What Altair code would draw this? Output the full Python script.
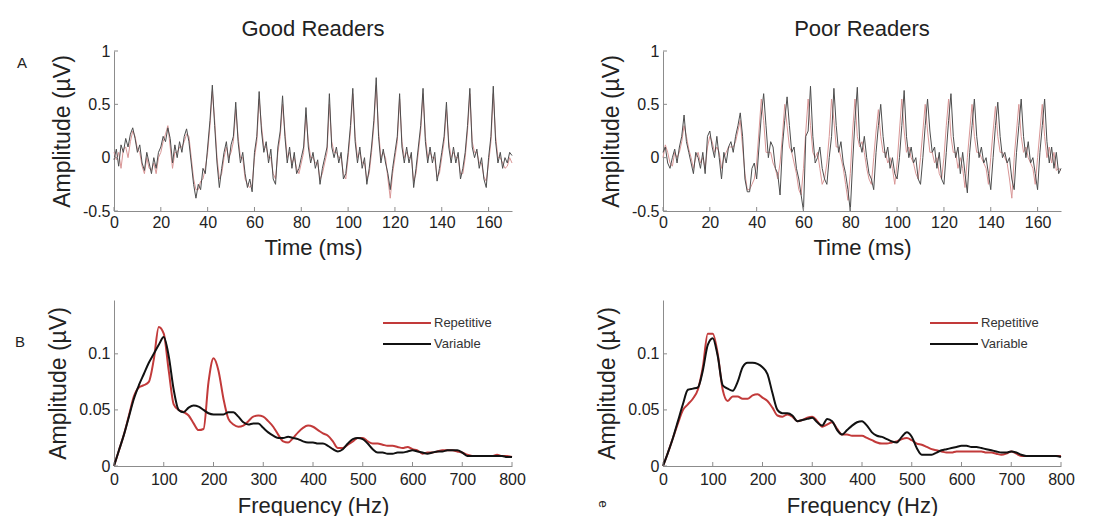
import altair as alt
import pandas as pd

FONT = "Liberation Sans"

# ---------------- data ----------------
time_ms = list(range(0, 171))
freq_hz = list(range(0, 801, 10))

series_names = ["Repetitive", "Variable"]

# Panel A, Good Readers (black = Variable, red = Repetitive)
good_var = [
    -0.02, 0.08, -0.08, 0.12, 0.05, 0.18, 0.10, 0.22, 0.28, 0.18,
    0.05, 0.12, -0.05, -0.12, 0.05, -0.05, -0.15, 0.00, -0.10, 0.05,
    0.10, 0.20, 0.15, 0.28, 0.18, -0.05, 0.12, 0.00, 0.15, 0.05,
    0.20, 0.27, 0.15, -0.05, -0.25, -0.38, -0.25, -0.30, -0.10, -0.15,
    0.10, 0.35, 0.68, 0.30, -0.05, -0.28, -0.10, 0.05, 0.15, -0.05,
    0.12, 0.20, 0.52, 0.15, -0.05, 0.05, -0.15, -0.28, -0.20, -0.32,
    0.05, 0.20, 0.62, 0.25, 0.05, 0.15, -0.05, 0.08, -0.20, -0.25,
    0.10, 0.25, 0.58, 0.20, -0.05, 0.10, -0.10, 0.05, -0.15, -0.10,
    0.00, 0.10, 0.47, 0.10, -0.05, 0.05, -0.10, -0.02, -0.25, -0.10,
    0.00, 0.10, 0.60, 0.10, 0.00, 0.10, -0.05, 0.05, -0.20, -0.15,
    0.05, 0.30, 0.65, 0.15, -0.05, 0.10, -0.10, 0.00, -0.25, -0.10,
    0.10, 0.35, 0.75, 0.20, -0.05, 0.08, -0.05, -0.15, -0.30, -0.10,
    0.05, 0.20, 0.60, 0.10, -0.05, 0.10, -0.05, 0.05, -0.28, -0.10,
    0.10, 0.30, 0.65, 0.15, -0.05, 0.10, -0.05, 0.05, -0.22, -0.10,
    0.05, 0.20, 0.52, 0.10, -0.05, 0.10, -0.05, 0.05, -0.20, -0.10,
    0.05, 0.30, 0.65, 0.10, 0.00, 0.08, -0.10, 0.00, -0.20, -0.28,
    0.00, 0.20, 0.67, 0.15, -0.05, 0.05, -0.10, 0.00, -0.05, 0.05,
    0.02,
]
good_rep = [
    0.05, -0.02, 0.05, -0.10, 0.08, 0.10, 0.00, 0.15, 0.25, 0.20,
    0.08, 0.05, -0.08, -0.15, 0.00, -0.10, -0.12, -0.05, -0.15, 0.00,
    0.05, 0.15, 0.22, 0.30, 0.10, -0.10, 0.05, 0.05, 0.10, 0.10,
    0.15, 0.22, 0.20, 0.00, -0.20, -0.30, -0.30, -0.22, -0.20, -0.10,
    0.05, 0.30, 0.62, 0.35, 0.00, -0.20, -0.15, 0.00, 0.10, 0.00,
    0.05, 0.15, 0.45, 0.20, 0.00, 0.00, -0.20, -0.25, -0.28, -0.25,
    0.00, 0.15, 0.55, 0.30, 0.10, 0.10, 0.00, 0.00, -0.15, -0.20,
    0.05, 0.20, 0.50, 0.25, 0.00, 0.05, -0.05, 0.00, -0.10, -0.15,
    -0.05, 0.05, 0.40, 0.15, 0.00, 0.00, -0.05, -0.05, -0.20, -0.15,
    -0.05, 0.05, 0.50, 0.15, 0.05, 0.05, 0.00, 0.00, -0.15, -0.20,
    0.00, 0.25, 0.60, 0.20, 0.00, 0.05, -0.05, -0.05, -0.20, -0.15,
    0.05, 0.30, 0.68, 0.25, 0.00, 0.05, 0.00, -0.20, -0.38, -0.15,
    0.00, 0.15, 0.55, 0.15, 0.00, 0.05, 0.00, 0.00, -0.22, -0.15,
    0.05, 0.25, 0.60, 0.20, 0.00, 0.05, 0.00, 0.00, -0.18, -0.15,
    0.00, 0.15, 0.45, 0.15, 0.00, 0.05, 0.00, 0.00, -0.15, -0.15,
    0.00, 0.25, 0.60, 0.15, 0.05, 0.05, -0.05, -0.05, -0.18, -0.22,
    -0.05, 0.15, 0.60, 0.20, 0.00, 0.00, -0.05, -0.10, -0.08, 0.00,
    -0.05,
]
# Panel A, Poor Readers
poor_var = [
    0.05, 0.10, -0.05, -0.10, 0.00, 0.08, -0.05, 0.10, 0.20, 0.40,
    0.15, 0.05, -0.05, -0.15, 0.05, 0.00, -0.10, 0.05, -0.15, 0.20,
    0.25, 0.10, 0.00, 0.20, 0.00, -0.20, 0.05, -0.05, 0.10, 0.15,
    0.05, 0.20, 0.30, 0.42, 0.20, -0.20, -0.32, -0.32, -0.10, -0.05,
    -0.20, 0.10, 0.40, 0.60, 0.30, 0.00, 0.15, 0.10, -0.10, -0.15,
    -0.35, 0.10, 0.35, 0.57, 0.30, 0.05, 0.10, -0.10, -0.20, -0.35,
    -0.50, 0.20, 0.25, 0.67, 0.20, -0.05, 0.00, 0.10, -0.10, -0.20,
    -0.25, 0.00, 0.20, 0.65, 0.30, 0.05, 0.15, -0.05, -0.15, -0.30,
    -0.50, -0.05, 0.35, 0.66, 0.15, 0.05, 0.20, 0.00, -0.15, -0.20,
    -0.30, 0.05, 0.30, 0.50, 0.20, 0.00, 0.10, -0.10, 0.00, -0.15,
    -0.20, 0.00, 0.30, 0.63, 0.20, 0.00, 0.10, -0.05, 0.00, -0.20,
    -0.25, 0.00, 0.30, 0.55, 0.25, 0.05, 0.10, -0.10, 0.05, -0.20,
    -0.25, 0.05, 0.35, 0.60, 0.20, 0.00, 0.10, -0.15, 0.05, -0.15,
    -0.33, 0.05, 0.30, 0.55, 0.20, 0.00, 0.10, -0.05, 0.00, -0.15,
    -0.30, 0.00, 0.30, 0.52, 0.20, 0.00, 0.05, -0.05, 0.00, -0.20,
    -0.30, 0.05, 0.30, 0.55, 0.20, 0.00, 0.15, -0.05, 0.00, -0.15,
    -0.30, 0.05, 0.30, 0.55, 0.15, -0.05, 0.10, -0.10, 0.05, -0.15,
    -0.10,
]
poor_rep = [
    0.00, 0.12, 0.05, -0.05, -0.08, 0.05, 0.00, 0.05, 0.15, 0.30,
    0.20, 0.08, 0.00, -0.10, 0.00, 0.05, -0.05, 0.00, -0.10, 0.10,
    0.20, 0.15, 0.05, 0.10, 0.05, -0.10, 0.00, 0.05, 0.10, 0.10,
    0.10, 0.15, 0.25, 0.35, 0.10, -0.15, -0.30, -0.30, -0.25, -0.20,
    -0.05, 0.25, 0.55, 0.35, 0.05, 0.05, 0.05, -0.05, -0.10, -0.20,
    -0.05, 0.20, 0.50, 0.30, 0.10, 0.05, -0.05, -0.15, -0.30, -0.35,
    -0.10, 0.25, 0.55, 0.30, 0.05, 0.00, 0.05, -0.10, -0.25, -0.20,
    -0.05, 0.20, 0.55, 0.35, 0.10, 0.10, 0.00, -0.10, -0.25, -0.40,
    -0.15, 0.25, 0.55, 0.20, 0.10, 0.15, 0.05, -0.10, -0.20, -0.25,
    0.00, 0.25, 0.45, 0.20, 0.05, 0.05, -0.05, 0.00, -0.10, -0.25,
    -0.05, 0.25, 0.55, 0.25, 0.05, 0.10, 0.00, -0.05, -0.15, -0.20,
    0.00, 0.25, 0.50, 0.25, 0.05, 0.05, -0.05, 0.00, -0.15, -0.20,
    0.00, 0.30, 0.55, 0.20, 0.05, 0.05, -0.10, 0.00, -0.10, -0.28,
    0.00, 0.25, 0.50, 0.20, 0.05, 0.05, 0.00, -0.05, -0.10, -0.25,
    0.00, 0.25, 0.48, 0.20, 0.05, 0.05, 0.00, -0.05, -0.20, -0.38,
    0.00, 0.25, 0.50, 0.20, 0.05, 0.10, 0.00, -0.05, -0.10, -0.25,
    0.00, 0.25, 0.50, 0.20, 0.00, 0.10, -0.05, 0.05, -0.12, -0.10,
    -0.12,
]

# Panel B spectra, 10 Hz steps
good_spec_rep = [
    0.000, 0.014, 0.028, 0.045, 0.062, 0.070, 0.072, 0.075, 0.095, 0.124,
    0.118, 0.085, 0.055, 0.050, 0.048, 0.045, 0.038, 0.032, 0.033, 0.075,
    0.096, 0.085, 0.060, 0.042, 0.037, 0.035, 0.036, 0.040, 0.044, 0.045,
    0.044, 0.040, 0.035, 0.028, 0.022, 0.021, 0.025, 0.030, 0.034, 0.036,
    0.035, 0.032, 0.029, 0.027, 0.022, 0.016, 0.016, 0.019, 0.022, 0.025,
    0.025, 0.022, 0.020, 0.020, 0.019, 0.018, 0.018, 0.017, 0.016, 0.017,
    0.015, 0.014, 0.011, 0.012, 0.012, 0.013, 0.014, 0.014, 0.014, 0.013,
    0.012, 0.010, 0.009, 0.009, 0.009, 0.009, 0.009, 0.010, 0.009, 0.009,
    0.008,
]
good_spec_var = [
    0.000, 0.014, 0.028, 0.044, 0.060, 0.072, 0.082, 0.092, 0.100, 0.108,
    0.115, 0.098, 0.068, 0.050, 0.048, 0.052, 0.054, 0.053, 0.050, 0.047,
    0.046, 0.046, 0.046, 0.048, 0.048, 0.044, 0.039, 0.037, 0.038, 0.038,
    0.034, 0.030, 0.027, 0.025, 0.025, 0.026, 0.025, 0.024, 0.022, 0.021,
    0.021, 0.020, 0.020, 0.018, 0.015, 0.013, 0.015, 0.020, 0.024, 0.025,
    0.024, 0.020, 0.015, 0.012, 0.012, 0.011, 0.011, 0.012, 0.012, 0.013,
    0.014, 0.013, 0.012, 0.011, 0.012, 0.013, 0.013, 0.014, 0.014, 0.014,
    0.012, 0.009, 0.009, 0.009, 0.009, 0.009, 0.009, 0.009, 0.009, 0.008,
    0.008,
]
poor_spec_rep = [
    0.000, 0.012, 0.025, 0.038, 0.050, 0.055, 0.060, 0.068, 0.088, 0.118,
    0.118, 0.100, 0.068, 0.058, 0.062, 0.062, 0.060, 0.060, 0.063, 0.064,
    0.061, 0.058, 0.052, 0.045, 0.044, 0.046, 0.044, 0.040, 0.041, 0.043,
    0.044, 0.040, 0.035, 0.037, 0.039, 0.033, 0.028, 0.028, 0.027, 0.027,
    0.027, 0.025, 0.023, 0.021, 0.020, 0.020, 0.021, 0.022, 0.024, 0.025,
    0.023, 0.020, 0.019, 0.017, 0.015, 0.014, 0.013, 0.012, 0.012, 0.013,
    0.013, 0.013, 0.013, 0.013, 0.013, 0.012, 0.012, 0.011, 0.010, 0.011,
    0.013, 0.011, 0.009, 0.009, 0.009, 0.009, 0.009, 0.009, 0.009, 0.009,
    0.009,
]
poor_spec_var = [
    0.000, 0.012, 0.025, 0.040, 0.055, 0.068, 0.069, 0.070, 0.085, 0.108,
    0.114, 0.098, 0.072, 0.069, 0.067, 0.075, 0.088, 0.092, 0.092, 0.091,
    0.088, 0.082, 0.065, 0.050, 0.047, 0.047, 0.045, 0.040, 0.041, 0.042,
    0.043, 0.039, 0.036, 0.042, 0.040, 0.032, 0.028, 0.032, 0.036, 0.039,
    0.040, 0.036, 0.030, 0.027, 0.026, 0.024, 0.022, 0.021, 0.026, 0.030,
    0.026, 0.016, 0.010, 0.010, 0.010, 0.012, 0.014, 0.015, 0.016, 0.017,
    0.018, 0.018, 0.017, 0.017, 0.016, 0.015, 0.014, 0.013, 0.012, 0.012,
    0.013, 0.012, 0.010, 0.009, 0.009, 0.009, 0.009, 0.009, 0.009, 0.009,
    0.008,
]

time_ticks = [0, 20, 40, 60, 80, 100, 120, 140, 160]
freq_ticks = [0, 100, 200, 300, 400, 500, 600, 700, 800]
amp_ticks_time = [-0.5, 0, 0.5, 1]
amp_ticks_freq = [0, 0.05, 0.1]

titles = ["Good Readers", "Poor Readers"]
x_titles = ["Time (ms)", "Frequency (Hz)"]
y_title = "Amplitude (\u00b5V)"
letters = ["A", "B"]

for arr in (good_var, good_rep, poor_var, poor_rep):
    assert len(arr) == len(time_ms)
for arr in (good_spec_rep, good_spec_var, poor_spec_rep, poor_spec_var):
    assert len(arr) == len(freq_hz)

# ---------------- styling ----------------
W = 398
H_TOP = 160
H_BOT = 166
AXIS_COLOR = "#8c8c8c"
TEXT_COLOR = "#222222"
LABEL_SIZE = 16


def long_df(xs, rep, var):
    return pd.DataFrame({
        "x": xs + xs,
        "amp": rep + var,
        "series": ["Repetitive"] * len(rep) + ["Variable"] * len(var),
    })


def x_axis(vals, title, label_pad, title_pad):
    return alt.Axis(values=vals, title=title, labelExpr="toString(datum.value)",
                    labelPadding=label_pad, titlePadding=title_pad, ticks=False,
                    grid=False, domainColor=AXIS_COLOR, labelFont=FONT,
                    labelFontSize=LABEL_SIZE, labelColor=TEXT_COLOR, titleFont=FONT,
                    titleFontSize=22, titleFontWeight="normal", titleColor=TEXT_COLOR,
                    labelFlush=False, labelOverlap=False)


def y_axis(vals, title):
    return alt.Axis(values=vals, title=title, labelExpr="toString(datum.value)",
                    labelPadding=4, titlePadding=8, ticks=False, grid=False,
                    domainColor=AXIS_COLOR, labelFont=FONT, labelFontSize=LABEL_SIZE,
                    labelColor=TEXT_COLOR, titleFont=FONT, titleFontSize=23,
                    titleFontWeight="normal", titleColor=TEXT_COLOR,
                    labelFlush=False, labelOverlap=False)


def inner_ticks(xvals, yvals, xscale, yscale, xaxis, yaxis, h):
    xt = alt.Chart(pd.DataFrame({"x": xvals})).mark_rule(
        color=AXIS_COLOR, strokeWidth=1).encode(
        x=alt.X("x:Q", scale=xscale, axis=xaxis),
        y=alt.value(h), y2=alt.value(h - 4))
    yt = alt.Chart(pd.DataFrame({"amp": yvals})).mark_rule(
        color=AXIS_COLOR, strokeWidth=1).encode(
        y=alt.Y("amp:Q", scale=yscale, axis=yaxis),
        x=alt.value(0), x2=alt.value(4))
    return [xt, yt]


def label_text(txt, x, y, size=15, angle=0):
    return alt.Chart(pd.DataFrame({"t": [txt]})).mark_text(
        font=FONT, fontSize=size, color=TEXT_COLOR, angle=angle).encode(
        text="t:N", x=alt.value(x), y=alt.value(y))


def top_panel(rep, var, title, letter):
    df = long_df(time_ms, rep, var)
    xs = alt.Scale(domain=[0, 170], nice=False, zero=False)
    ys = alt.Scale(domain=[-0.5, 1], nice=False, zero=False)
    xa = x_axis(time_ticks, x_titles[0], 3, 7)
    ya = y_axis(amp_ticks_time, y_title)
    enc = dict(
        x=alt.X("x:Q", scale=xs, axis=xa),
        y=alt.Y("amp:Q", scale=ys, axis=ya),
    )
    red = alt.Chart(df).transform_filter("datum.series == 'Repetitive'").mark_line(
        color="#d99696", strokeWidth=1).encode(**enc)
    black = alt.Chart(df).transform_filter("datum.series == 'Variable'").mark_line(
        color="#4d4d4d", strokeWidth=1).encode(**enc)
    layers = [red, black] + inner_ticks(time_ticks, amp_ticks_time, xs, ys, xa, ya, H_TOP)
    if letter:
        layers.append(label_text(letter, -92, 12))
    return alt.layer(*layers).properties(
        width=W, height=H_TOP,
        title=alt.TitleParams(title, font=FONT, fontSize=22, fontWeight="normal",
                              color=TEXT_COLOR, offset=2, anchor="middle"))


def bottom_panel(rep, var, letter, legend_x, extra=None):
    df = long_df(freq_hz, rep, var)
    xs = alt.Scale(domain=[0, 800], nice=False, zero=False)
    ys = alt.Scale(domain=[0, 0.148], nice=False, zero=False)
    xa = x_axis(freq_ticks, x_titles[1], 5, 8)
    ya = y_axis(amp_ticks_freq, y_title)
    lines = alt.Chart(df).mark_line(strokeWidth=2, interpolate="monotone").encode(
        x=alt.X("x:Q", scale=xs, axis=xa),
        y=alt.Y("amp:Q", scale=ys, axis=ya),
        color=alt.Color("series:N",
                        scale=alt.Scale(domain=series_names, range=["#c23a3a", "#111111"]),
                        legend=alt.Legend(title=None, orient="none", legendX=legend_x,
                                          legendY=12, symbolType="M-3.6,0H1.2",
                                          symbolSize=400, symbolStrokeWidth=2,
                                          labelFont=FONT, labelFontSize=13,
                                          labelColor="#333333", rowPadding=3,
                                          padding=0, labelOffset=4)),
    )
    layers = [lines] + inner_ticks(freq_ticks, amp_ticks_freq, xs, ys, xa, ya, H_BOT)
    if letter:
        layers.append(label_text(letter, -94, 42))
    if extra:
        layers.append(label_text(extra, -60, 204, size=13, angle=90))
    return alt.layer(*layers).properties(width=W, height=H_BOT)


tl = top_panel(good_rep, good_var, titles[0], letters[0])
tr = top_panel(poor_rep, poor_var, titles[1], None)
bl = bottom_panel(good_spec_rep, good_spec_var, letters[1], 294)
br = bottom_panel(poor_spec_rep, poor_spec_var, None, 292, extra="e")

chart = alt.concat(
    tl, tr, bl, br, columns=2,
    spacing={"row": 89, "column": 151}, bounds="flush",
).resolve_scale(color="independent").properties(
    padding={"left": 6, "top": 10, "right": 5, "bottom": 0},
    background="white",
).configure_view(stroke=None)

chart.save("out.html", embed_options={"renderer": "svg", "actions": False})
